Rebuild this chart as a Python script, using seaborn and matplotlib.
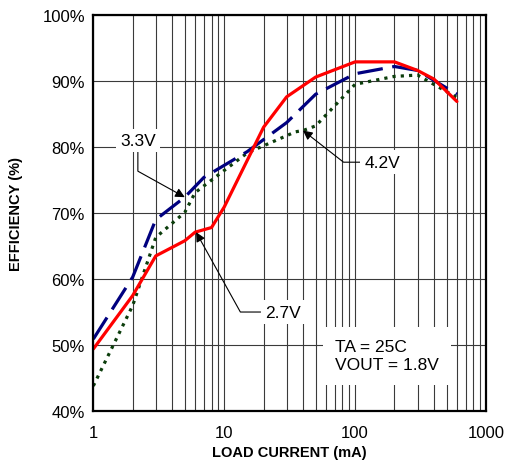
import numpy as np
import pandas as pd
import matplotlib
matplotlib.use("Agg")
import matplotlib.pyplot as plt
from matplotlib.ticker import FixedLocator, NullFormatter, LogLocator
import seaborn as sns

# Data
x_27 = [1, 2, 3, 5, 6, 8, 10, 20, 30, 50, 100, 200, 300, 400, 600]
y_27 = [49.4, 57.5, 63.5, 65.8, 67.1, 67.8, 70.9, 83.0, 87.6, 90.6, 92.9, 92.9, 91.6, 90.3, 86.9]
x_33 = [1, 2, 3, 5, 7, 15, 30, 50, 100, 200, 300, 600]
y_33 = [50.9, 60.3, 69.0, 72.4, 75.4, 79.3, 83.7, 88.0, 91.1, 92.2, 91.6, 88.0]
x_42 = [1, 2, 3, 5, 6, 15, 35, 40, 50, 100, 200, 300, 600]
y_42 = [43.8, 56.0, 66.3, 70.1, 73.1, 79.1, 82.3, 82.5, 83.2, 89.5, 90.7, 90.9, 87.5]
y_ticks = [40, 50, 60, 70, 80, 90, 100]
y_ticklabels = [f"{v}%" for v in y_ticks]
x_ticks = [1, 10, 100, 1000]
x_ticklabels = ["1", "10", "100", "1000"]

sns.set_theme(style="white", rc={"text.color": "black", "axes.labelcolor": "black",
                                 "xtick.color": "black", "ytick.color": "black"})
plt.rcParams['font.family'] = ['Liberation Sans', 'DejaVu Sans']

fig = plt.figure(figsize=(5.11, 4.64), dpi=100)
ax = fig.add_axes([0.1826, 0.112, 0.9510 - 0.1826, 0.9655 - 0.112])

sns.lineplot(x=x_27, y=y_27, ax=ax, color="#FF0000", lw=2.3, zorder=5)
sns.lineplot(x=x_33, y=y_33, ax=ax, color="#00007F", lw=2.3, zorder=4)
sns.lineplot(x=x_42, y=y_42, ax=ax, color="#0B3D0B", lw=2.3, zorder=3)
ax.lines[1].set_dashes([8, 3])
ax.lines[2].set_dashes([1.0, 1.6])

ax.set_xscale("log")
ax.set_xlim(1, 1000)
ax.set_ylim(40, 100)
ax.xaxis.set_major_locator(FixedLocator(x_ticks))
ax.xaxis.set_minor_locator(LogLocator(base=10, subs=np.arange(2, 10)))
ax.xaxis.set_minor_formatter(NullFormatter())
ax.set_xticks(x_ticks)
ax.set_xticklabels(x_ticklabels, fontsize=12)
ax.set_yticks(y_ticks)
ax.set_yticklabels(y_ticklabels, fontsize=12)
ax.tick_params(axis="x", which="both", length=0, pad=10)
ax.tick_params(axis="y", which="both", length=0, pad=6)
ax.grid(True, which="major", color="#3a3a3a", lw=0.8)
ax.grid(True, which="minor", axis="x", color="#3a3a3a", lw=0.8)
for s in ax.spines.values():
    s.set_color("black")
    s.set_linewidth(1.6)
    s.set_zorder(10)

ax.set_xlabel("LOAD CURRENT (mA)", fontsize=10.5, fontweight="bold", labelpad=4)
ax.set_ylabel("EFFICIENCY (%)", fontsize=10.5, fontweight="bold", labelpad=14)

box = dict(boxstyle="square,pad=0.25", fc="white", ec="none")

def arrowp(angA, angB, relpos):
    return dict(arrowstyle="-|>", color="black", lw=0.8, mutation_scale=14,
                shrinkA=0, shrinkB=0, relpos=relpos,
                connectionstyle=f"angle,angleA={angA},angleB={angB},rad=0")

# 3.3V label
ax.annotate("3.3V", xy=(5, 72.4), xytext=(2.19, 81.0), fontsize=12.5, ha="center", va="center",
            bbox=box, zorder=8, arrowprops=arrowp(90, -29, (0.5, 0.0)))
# 4.2V label
ax.annotate("4.2V", xy=(40, 82.5), xytext=(118, 77.7), fontsize=12.5, ha="left", va="center",
            bbox=box, zorder=8, arrowprops=arrowp(0, -38, (0.0, 0.5)))
# 2.7V label
ax.annotate("2.7V", xy=(6.1, 67.1), xytext=(20.5, 55.0), fontsize=12.5, ha="left", va="center",
            bbox=box, zorder=8, arrowprops=arrowp(0, -61, (0.0, 0.5)))

ax.text(70, 48.4, "TA = 25C\nVOUT = 1.8V", fontsize=12.5, ha="left", va="center", linespacing=1.3,
        bbox=dict(boxstyle="square,pad=0.7", fc="white", ec="none"), zorder=8)

fig.savefig("out.png", dpi=100)
